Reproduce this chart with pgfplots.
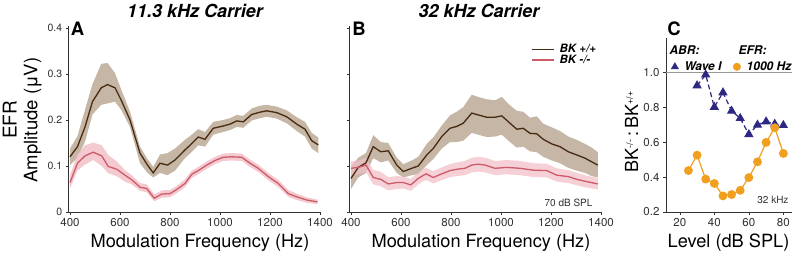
\documentclass[border=0pt]{standalone}
\usepackage{pgfplots}
\pgfplotsset{compat=1.18}
\usepackage{pgfplotstable}
\usepackage{fontspec}
\setmainfont{TeX Gyre Heros}
\definecolor{brline}{RGB}{72,42,16}
\definecolor{brband}{RGB}{198,182,166}
\definecolor{pkline}{RGB}{205,90,105}
\definecolor{pkband}{RGB}{242,192,200}
\definecolor{abr}{RGB}{45,40,130}
\definecolor{efr}{RGB}{240,160,30}
\definecolor{axgray}{RGB}{50,50,50}

% ---- Panel A, BK+/+ mean ----
\pgfplotstableread{
x y
400 0.120
430 0.142
460 0.185
490 0.240
525 0.270
550 0.277
580 0.270
605 0.243
640 0.200
680 0.128
710 0.102
733 0.085
760 0.106
790 0.102
820 0.113
860 0.135
880 0.145
913 0.163
940 0.158
973 0.182
1013 0.187
1040 0.191
1067 0.198
1093 0.196
1127 0.212
1160 0.217
1187 0.220
1227 0.216
1267 0.207
1307 0.191
1340 0.180
1367 0.155
1393 0.146
}\Abrown
% band: upper edge forward, lower edge back
\pgfplotstableread{
x y
400 .138
430 .165
460 .222
490 .278
525 .322
550 .324
580 .302
605 .266
640 .218
680 .142
710 .115
733 .098
760 .125
790 .128
820 .138
860 .157
880 .165
913 .180
940 .174
973 .196
1013 .200
1040 .204
1067 .211
1093 .209
1127 .225
1160 .231
1187 .233
1227 .229
1267 .221
1307 .206
1340 .196
1367 .172
1393 .162
1393 .128
1367 .138
1340 .164
1307 .176
1267 .193
1227 .203
1187 .207
1160 .204
1127 .199
1093 .183
1067 .185
1040 .178
1013 .174
973 .168
940 .142
913 .145
880 .127
860 .117
820 .090
790 .080
760 .085
733 .075
710 .085
680 .106
640 .185
605 .222
580 .240
550 .236
525 .233
490 .212
460 .153
430 .118
400 .102
}\AbrownBand

% ---- Panel A, BK-/- ----
\pgfplotstableread{
x y
400 0.064
430 0.106
460 0.122
493 0.130
527 0.122
553 0.099
587 0.093
620 0.080
647 0.070
680 0.054
707 0.051
737 0.030
767 0.039
800 0.040
827 0.049
860 0.062
887 0.082
913 0.090
947 0.102
980 0.112
1013 0.119
1047 0.120
1087 0.119
1120 0.106
1153 0.095
1193 0.077
1233 0.062
1273 0.040
1307 0.033
1347 0.026
1390 0.022
}\Apink
\pgfplotstableread{
x y
400 .080
430 .125
460 .145
493 .151
527 .145
553 .124
587 .110
620 .091
647 .080
680 .063
707 .060
737 .038
767 .047
800 .048
827 .057
860 .071
887 .090
913 .098
947 .110
980 .120
1013 .127
1047 .128
1087 .127
1120 .114
1153 .103
1193 .085
1233 .070
1273 .048
1307 .040
1347 .032
1390 .027
1390 .017
1347 .020
1307 .026
1273 .033
1233 .054
1193 .069
1153 .087
1120 .098
1087 .111
1047 .112
1013 .111
980 .104
947 .094
913 .082
887 .074
860 .054
827 .041
800 .032
767 .031
737 .023
707 .043
680 .046
647 .060
620 .066
587 .078
553 .084
527 .100
493 .113
460 .103
430 .090
400 .051
}\ApinkBand

% ---- Panel B, BK+/+ ----
\pgfplotstableread{
x y
400 0.073
429 0.097
460 0.107
489 0.142
519 0.131
549 0.133
583 0.102
609 0.088
643 0.095
669 0.100
703 0.124
729 0.138
763 0.164
796 0.182
823 0.186
849 0.193
883 0.215
909 0.211
943 0.206
976 0.206
1003 0.209
1036 0.193
1063 0.180
1089 0.182
1116 0.171
1143 0.170
1169 0.158
1203 0.148
1236 0.142
1269 0.131
1303 0.124
1336 0.117
1363 0.109
1387 0.102
}\Bbrown
\pgfplotstableread{
x y
400 .100
429 .118
460 .128
489 .167
519 .152
549 .150
583 .118
609 .104
643 .112
669 .120
703 .148
729 .162
763 .188
796 .210
823 .218
849 .228
883 .255
909 .250
943 .245
976 .243
1003 .250
1036 .232
1063 .220
1089 .218
1116 .205
1143 .208
1169 .192
1203 .184
1236 .176
1269 .164
1303 .157
1336 .148
1363 .140
1387 .130
1387 .075
1363 .078
1336 .085
1303 .090
1269 .096
1236 .106
1203 .112
1169 .120
1143 .130
1116 .132
1089 .142
1063 .140
1036 .152
1003 .168
976 .164
943 .163
909 .168
883 .172
849 .155
823 .152
796 .152
763 .138
729 .115
703 .102
669 .082
643 .080
609 .075
583 .085
549 .112
519 .108
489 .117
460 .085
429 .075
400 .050
}\BbrownBand

% ---- Panel B, BK-/- ----
\pgfplotstableread{
x y
400 0.095
429 0.097
460 0.102
489 0.075
519 0.071
549 0.061
583 0.064
609 0.064
639 0.059
669 0.073
700 0.083
729 0.075
763 0.083
796 0.090
825 0.093
856 0.095
883 0.102
909 0.104
936 0.102
976 0.095
1023 0.097
1076 0.095
1129 0.091
1183 0.090
1223 0.080
1269 0.077
1303 0.071
1343 0.066
1387 0.061
}\Bpink
\pgfplotstableread{
x y
400 .110
429 .112
460 .117
489 .092
519 .087
549 .076
583 .078
609 .077
639 .072
669 .086
700 .096
729 .089
763 .097
796 .104
825 .108
856 .111
883 .118
909 .120
936 .118
976 .111
1023 .113
1076 .111
1129 .106
1183 .105
1223 .095
1269 .091
1303 .085
1343 .079
1387 .074
1387 .049
1343 .053
1303 .058
1269 .063
1223 .066
1183 .075
1129 .076
1076 .080
1023 .082
976 .080
936 .086
909 .088
883 .086
856 .080
825 .078
796 .076
763 .069
729 .062
700 .070
669 .060
639 .046
609 .051
583 .050
549 .047
519 .056
489 .060
460 .087
429 .082
400 .080
}\BpinkBand

% ---- Panel C ----
\pgfplotstableread{
x y
30 0.923
35 0.985
40 0.800
45 0.883
50 0.778
55 0.736
60 0.644
65 0.698
70 0.717
75 0.703
80 0.696
}\Cabr
\pgfplotstableread{
x y
25 0.437
30 0.525
35 0.388
40 0.363
45 0.292
50 0.300
55 0.324
60 0.397
65 0.487
70 0.598
75 0.682
80 0.535
}\Cefr

\pgfplotsset{
  panel/.style={
    scale only axis,
    anchor=south west,
    axis x line*=bottom,
    axis y line*=left,
    axis line style={-, axgray, line width=0.7pt},
    tick style={axgray, line width=0.6pt},
    tick align=outside,
    major tick length=3pt,
    xticklabel style={font=\fontsize{11.5}{13}\selectfont, text=axgray},
    yticklabel style={font=\fontsize{10.5}{12}\selectfont, text=axgray},
    /pgf/number format/assume math mode=true,
    clip=false,
  },
  freqpanel/.style={
    panel,
    width=251.25pt, height=186.3pt,
    xmin=395, xmax=1400, ymin=0, ymax=0.405,
    xtick={400,600,800,1000,1200,1400},
    xticklabels={400,600,800,1000,1200,1400},
    ytick={0,0.1,0.2,0.3,0.4},
  },
}

\begin{document}
\begin{tikzpicture}
\useasboundingbox (0pt,0pt) rectangle (797pt,252pt);

% Panel A
\begin{axis}[freqpanel, at={(68.75pt,40pt)},
  yticklabels={0,0.1,0.2,0.3,0.4}]
  \addplot[fill=brband, draw=none, forget plot] table[x=x,y=y]{\AbrownBand} -- cycle;
  \addplot[fill=pkband, draw=none, fill opacity=0.85, forget plot] table[x=x,y=y]{\ApinkBand} -- cycle;
  \addplot[brline, line width=1.3pt] table[x=x,y=y]{\Abrown};
  \addplot[pkline, line width=1.3pt] table[x=x,y=y]{\Apink};
\end{axis}

% Panel B
\begin{axis}[freqpanel, at={(349.75pt,40pt)},
  yticklabels={},
  legend style={draw=none, fill=none, at={(axis description cs:0.722,0.905)}, anchor=north west,
    inner sep=0pt, nodes={inner sep=1pt},
    font=\fontsize{11.5}{13}\selectfont\bfseries\itshape, row sep=-1.5pt,
    /tikz/every odd column/.append style={column sep=4pt}},
  legend cell align=left,
  legend image code/.code={\draw[#1] (0pt,0pt) -- (22pt,0pt);}]
  \addplot[fill=brband, draw=none, forget plot] table[x=x,y=y]{\BbrownBand} -- cycle;
  \addplot[fill=pkband, draw=none, fill opacity=0.75, forget plot] table[x=x,y=y]{\BpinkBand} -- cycle;
  \addplot[brline, line width=1.3pt] table[x=x,y=y]{\Bbrown};
  \addlegendentry{BK +/+}
  \addplot[pkline, line width=1.3pt] table[x=x,y=y]{\Bpink};
  \addlegendentry{BK -/-}
  \node[anchor=south east, font=\fontsize{10}{11}\selectfont, text=axgray] at (axis description cs:0.98,0.01) {70 dB SPL};
\end{axis}

% Panel C
\begin{axis}[panel, at={(666pt,40pt)}, width=126pt, height=174pt,
  xmin=12, xmax=85, ymin=0.2, ymax=1.195,
  xtick={20,40,60,80}, xticklabels={20,40,60,80},
  ytick={0.2,0.4,0.6,0.8,1.0}, yticklabels={0.2,0.4,0.6,0.8,1.0},
  yticklabel style={font=\fontsize{11.5}{13}\selectfont},
  legend columns=2,
  legend style={draw=none, fill=none, at={(axis description cs:0.04,0.868)}, anchor=north west,
    inner sep=0pt, nodes={inner sep=0.5pt},
    font=\fontsize{12}{14}\selectfont\bfseries\itshape,
    /tikz/every odd column/.append style={column sep=5.5pt},
    /tikz/every even column/.append style={column sep=11pt}},
  legend image code/.code={\draw[#1] plot coordinates {(0pt,0pt)};},
  ]
  \addplot[gray!80, line width=0.9pt, forget plot] coordinates {(12,1) (85,1)};
  \addplot[abr, line width=1.2pt, dash pattern=on 5pt off 3pt, mark=triangle*, mark size=4.2pt,
    mark options={solid}, forget plot] table[x=x,y=y]{\Cabr};
  \addplot[efr, line width=1.2pt, mark=*, mark size=3.8pt, forget plot] table[x=x,y=y]{\Cefr};
  \addlegendimage{only marks, mark=triangle*, mark size=4.2pt, abr}
  \addlegendentry{Wave I}
  \addlegendimage{only marks, mark=*, mark size=3.8pt, efr}
  \addlegendentry{1000 Hz}
  \node[anchor=south east, font=\fontsize{10}{11}\selectfont, text=axgray] at (axis description cs:1,0.03) {32 kHz};
\end{axis}

% Titles and labels
\node[font=\fontsize{18}{20}\selectfont\bfseries\itshape] at (195pt,241pt) {11.3 kHz Carrier};
\node[font=\fontsize{18}{20}\selectfont\bfseries\itshape] at (479pt,241pt) {32 kHz Carrier};
\node[font=\fontsize{18.5}{20}\selectfont\bfseries] at (77.5pt,223pt) {A};
\node[font=\fontsize{18.5}{20}\selectfont\bfseries] at (359pt,223pt) {B};
\node[font=\fontsize{18.5}{20}\selectfont\bfseries] at (674pt,223pt) {C};
\node[rotate=90, anchor=base, font=\fontsize{19}{20}\selectfont] at (16.7pt,132pt) {EFR};
\node[rotate=90, anchor=base, font=\fontsize{18.5}{20}\selectfont] at (37.3pt,132pt) {Amplitude (μV)};
\node[anchor=base, font=\fontsize{18.2}{20}\selectfont] at (200pt,4.3pt) {Modulation Frequency (Hz)};
\node[anchor=base, font=\fontsize{18.2}{20}\selectfont] at (481pt,4.3pt) {Modulation Frequency (Hz)};
\node[anchor=base, font=\fontsize{18.2}{20}\selectfont] at (728.5pt,4.3pt) {Level (dB SPL)};
\node[rotate=90, anchor=base, font=\fontsize{18}{20}\selectfont] at (638pt,120pt) {BK{\fontsize{9}{10}\selectfont\raisebox{1.1ex}{-/-}}\,:\,BK{\fontsize{9}{10}\selectfont\raisebox{1.1ex}{+/+}}};
\node[anchor=west, font=\fontsize{12}{14}\selectfont\bfseries\itshape] at (666pt,202pt) {ABR:};
\node[anchor=west, font=\fontsize{12}{14}\selectfont\bfseries\itshape] at (735pt,202pt) {EFR:};
\end{tikzpicture}
\end{document}
